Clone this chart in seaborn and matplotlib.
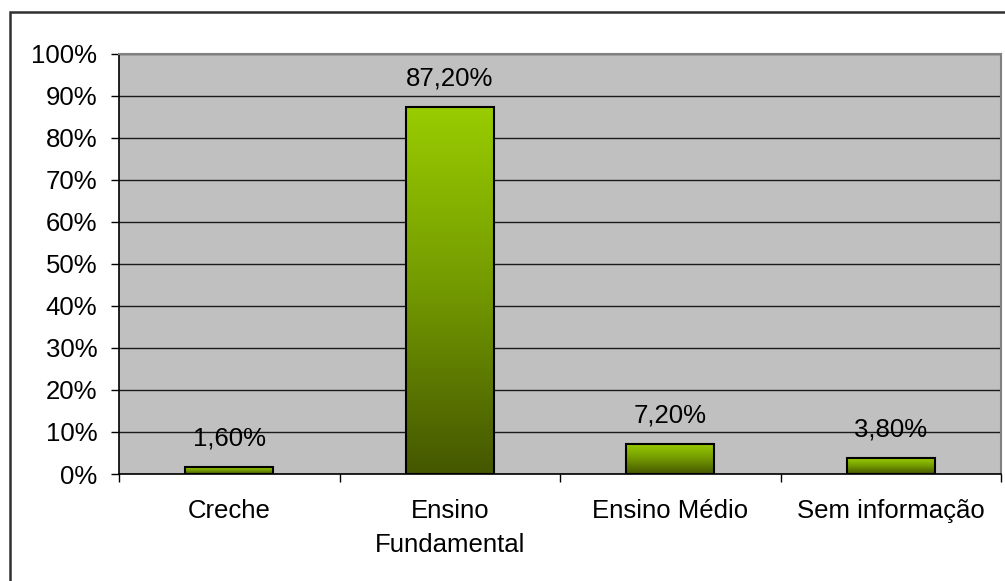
import matplotlib
matplotlib.use("Agg")
import matplotlib.pyplot as plt
import numpy as np
import pandas as pd
import seaborn as sns
from matplotlib.patches import Rectangle
from matplotlib.colors import LinearSegmentedColormap
from matplotlib.ticker import FixedLocator

categories = ["Creche", "Ensino\nFundamental", "Ensino Médio", "Sem informação"]
values = [1.6, 87.2, 7.2, 3.8]
value_labels = ["1,60%", "87,20%", "7,20%", "3,80%"]
ytick_values = [0, 10, 20, 30, 40, 50, 60, 70, 80, 90, 100]
ytick_labels = ["0%", "10%", "20%", "30%", "40%", "50%", "60%", "70%", "80%", "90%", "100%"]

sns.set_theme(style="white")
plt.rcParams["font.family"] = ["Liberation Sans", "DejaVu Sans"]
plt.rcParams["text.color"] = "black"
plt.rcParams["xtick.color"] = "black"
plt.rcParams["ytick.color"] = "black"
plt.rcParams["xtick.labelcolor"] = "black"
plt.rcParams["ytick.labelcolor"] = "black"

FS = 18.5

fig = plt.figure(figsize=(10.05, 5.81), dpi=100)
ax = fig.add_axes([119 / 1005, 1 - 474 / 581, (1001 - 119) / 1005, (474 - 53.5) / 581])

df = pd.DataFrame({"cat": categories, "val": values})
sns.barplot(data=df, x="cat", y="val", ax=ax, width=0.4, color="#99CC00",
            edgecolor="black", linewidth=1.5, zorder=3)

ax.set_facecolor("#C0C0C0")

# gradient fill per bar
cmap = LinearSegmentedColormap.from_list("g", [(0.27, 0.34, 0.0), (0.45, 0.60, 0.0), (0.60, 0.80, 0.0)])
grad = np.linspace(0, 1, 256).reshape(-1, 1)
for p in ax.patches:
    x0, y0 = p.get_x(), p.get_y()
    w, h = p.get_width(), p.get_height()
    ax.imshow(grad, extent=[x0, x0 + w, y0, y0 + h], origin="lower", cmap=cmap,
              aspect="auto", zorder=3.5, interpolation="bilinear")
    p.set_facecolor("none")
    p.set_zorder(4)
ax.set_xlim(-0.5, 3.5)
ax.set_ylim(0, 100)
ax.set_aspect("auto")

for p, lab in zip(ax.patches, value_labels):
    ax.annotate(lab, (p.get_x() + p.get_width() / 2, p.get_height()),
                xytext=(0, 20.5), textcoords="offset points", ha="center", va="center",
                fontsize=FS, color="black", zorder=5)

ax.yaxis.set_major_locator(FixedLocator(ytick_values))
ax.set_yticklabels(ytick_labels)
ax.grid(axis="y", color="#1a1a1a", linewidth=1.0, zorder=1)
ax.set_axisbelow(True)
ax.tick_params(axis="y", which="major", left=True, length=5.5, width=1, color="black",
               pad=10, labelsize=FS, labelcolor="black")
ax.tick_params(axis="x", which="major", bottom=False, length=0, pad=18, labelsize=FS,
               labelcolor="black")
for t in ax.get_xticklabels():
    t.set_linespacing(1.5)
ax.xaxis.set_minor_locator(FixedLocator([-0.5, 0.5, 1.5, 2.5, 3.5]))
ax.tick_params(axis="x", which="minor", bottom=True, length=6, width=1, color="black")
ax.set_xlabel("")
ax.set_ylabel("")

for s in ["left", "bottom"]:
    ax.spines[s].set_color("black")
    ax.spines[s].set_linewidth(1.2)
for s in ["top", "right"]:
    ax.spines[s].set_color("#808080")
    ax.spines[s].set_linewidth(1.5)
    ax.spines[s].set_visible(True)

top = 1 - 12 / 581
fig.add_artist(Rectangle((10 / 1005, -0.2), 1.2, top + 0.2,
                         transform=fig.transFigure, fill=False, edgecolor="#303030",
                         linewidth=1.8))

fig.savefig("out.png", dpi=100)
